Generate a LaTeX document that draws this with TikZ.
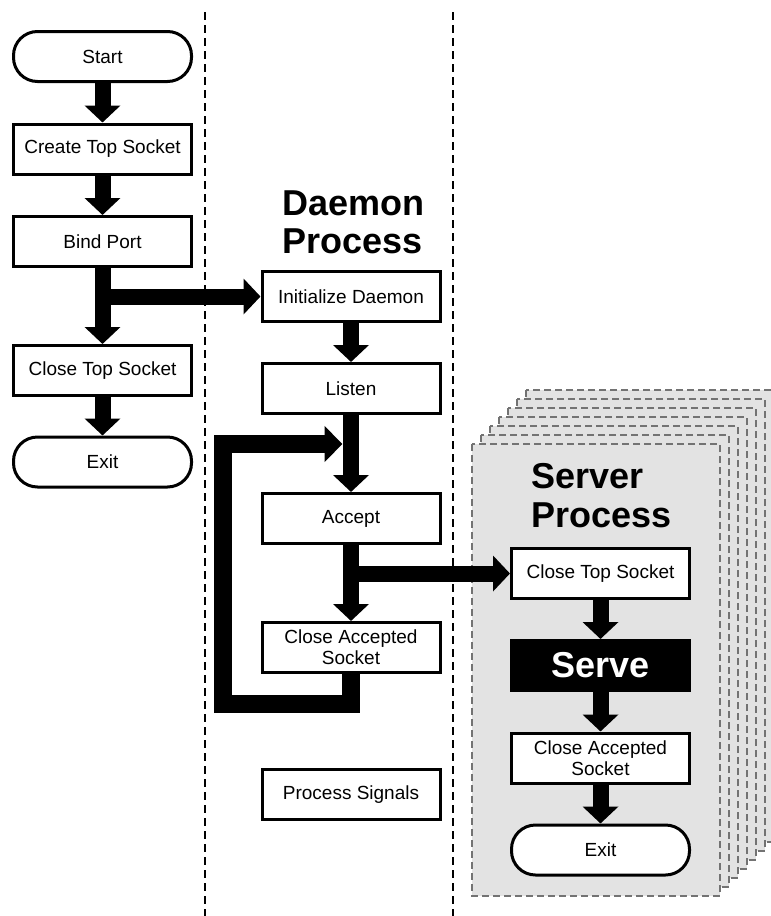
\documentclass[tikz,border=0pt]{standalone}
\usepackage{fontspec}
\setmainfont{Liberation Sans}
\usetikzlibrary{arrows.meta}
\begin{document}
\begin{tikzpicture}[x=1pt,y=-1pt,
  box/.style={draw,line width=3pt,minimum width=178pt,minimum height=50pt,inner sep=0pt,
    font=\fontsize{19}{21}\selectfont,align=center,fill=white},
  term/.style={box,rounded corners=24pt},
  blackbox/.style={box,fill=black,text=white,font=\fontsize{36}{38}\selectfont\bfseries},
  flow/.style={line width=16pt,-{Triangle[width=35pt,length=17pt]}},
  loopflow/.style={line width=18pt,line join=miter,-{Triangle[width=35pt,length=18pt]}},
  title/.style={anchor=base west,inner sep=0pt,font=\fontsize{36}{38}\selectfont\bfseries},
  sep/.style={line width=1.5pt,dash pattern=on 8pt off 5pt},
  panel/.style={fill=black!11,draw=black!55,line width=1.8pt,dash pattern=on 7pt off 4pt}]
\useasboundingbox (0,0) rectangle (771,916);
\clip (0,0) rectangle (771,916);

% separators
\draw[sep] (205,12) -- (205,916);
\draw[sep] (453,12) -- (453,916);

% server process stack
\foreach \i in {6,...,1}
  \draw[panel] ({472+9*\i},{444-9*\i}) rectangle ({720+9*\i},{896-9*\i});
\draw[panel] (472,444) rectangle (720,896);

% left column
\node[term] (start) at (102.5,56.5) {Start};
\node[box] (cts) at (102.5,149) {Create Top Socket};
\node[box] (bind) at (102.5,241.5) {Bind Port};
\node[box] (clts) at (102.5,370.5) {Close Top Socket};
\node[term] (exit) at (102.5,462) {Exit};

% daemon column
\node[title] (dt1) at (282,215) {Daemon};
\node[title] (dt2) at (282,253) {Process};
\node[box] (init) at (351,296.5) {Initialize Daemon};
\node[box] (listen) at (351,388.5) {Listen};
\node[box] (accept) at (351,518.5) {Accept};
\node[box] (cas) at (351,647.5) {Close Accepted\\Socket};
\node[box] (sig) at (351,794.5) {Process Signals};

% server column
\node[title] (st1) at (531,488) {Server};
\node[title] (st2) at (531,527) {Process};
\node[box] (sclts) at (600.5,573.5) {Close Top Socket};
\node[blackbox] (serve) at (600.5,665.5) {Serve};
\node[box] (scas) at (600.5,758) {Close Accepted\\Socket};
\node[term] (sexit) at (600.5,850) {Exit};

% connectors
\draw[flow] (start) -- (cts);
\draw[flow] (cts) -- (bind);
\draw[flow] (bind) -- (clts);
\draw[flow] (clts) -- (exit);
\coordinate (b1) at (102.5,296.5);
\draw[flow] (b1) -- (init);
\draw[flow] (init) -- (listen);
\draw[flow] (listen) -- (accept);
\draw[flow] (accept) -- (cas);
\coordinate (b2) at (351,573.5);
\draw[flow] (b2) -- (sclts);
\coordinate (lt) at (342.5,444);
\draw[loopflow] (cas.south) -- ++(0,29.5) -| (222.5,444) -- (lt);
\draw[flow] (sclts) -- (serve);
\draw[flow] (serve) -- (scas);
\draw[flow] (scas) -- (sexit);
\end{tikzpicture}
\end{document}
